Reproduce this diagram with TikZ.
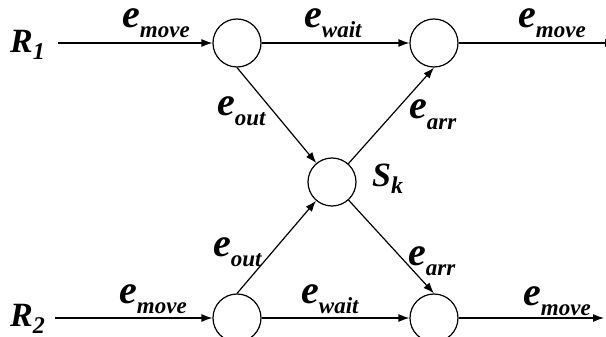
\documentclass[tikz,border=0pt]{standalone}
\usepackage{fontspec}
\setmainfont{Liberation Serif}
\usetikzlibrary{arrows.meta}
\newcommand{\elab}[1]{{\fontsize{40}{40}\selectfont e}\raisebox{-10pt}{\fontsize{23}{23}\selectfont #1}}
\newcommand{\rlab}[2]{{\fontsize{34}{34}\selectfont #1}\raisebox{-7pt}{\fontsize{24}{24}\selectfont #2}}
\begin{document}
\begin{tikzpicture}[x=1pt,y=-1pt,
  circ/.style={circle,draw,line width=1.2pt,minimum size=48pt,inner sep=0pt},
  conn/.style={line width=1.2pt,-{Latex[length=11pt,width=8pt]}},
  lab/.style={anchor=base west,inner sep=0pt,font=\bfseries\itshape}]
\useasboundingbox (0,0) rectangle (606,337);
\clip (0,0) rectangle (606,337);
\node[circ] (TL) at (237,43) {};
\node[circ] (TR) at (434,43) {};
\node[circ] (S) at (332,182) {};
\node[circ] (BL) at (237,318) {};
\node[circ] (BR) at (434,318) {};
\coordinate (r1s) at (58,43);
\coordinate (r2s) at (55,318);
\coordinate (t1e) at (616,43);
\coordinate (t2e) at (604,318);
\draw[conn] (r1s) -- (TL);
\draw[conn] (TL) -- (TR);
\draw[conn] (TR) -- (t1e);
\draw[conn] (r2s) -- (BL);
\draw[conn] (BL) -- (BR);
\draw[conn] (BR) -- (t2e);
\draw[conn] (TL.south) -- (S);
\draw[conn] (S) -- (TR.south);
\draw[conn] (BL.north) -- (S);
\draw[conn] (S) -- (BR.north);
\node[lab] (R1) at (10,53) {\rlab{R}{1}};
\node[lab] (R2) at (10,326) {\rlab{R}{2}};
\node[lab] (Sk) at (372,186) {\rlab{S}{k}};
\node[lab] (l1) at (122,28) {\elab{move}};
\node[lab] (l2) at (304,28) {\elab{wait}};
\node[lab] (l3) at (518,28) {\elab{move}};
\node[lab] (l4) at (217,116) {\elab{out}};
\node[lab] (l5) at (409,119) {\elab{arr}};
\node[lab] (l6) at (213,256) {\elab{out}};
\node[lab] (l7) at (408,265) {\elab{arr}};
\node[lab] (l8) at (119,303) {\elab{move}};
\node[lab] (l9) at (301,303) {\elab{wait}};
\node[lab] (l10) at (523,305) {\elab{move}};
\end{tikzpicture}
\end{document}
